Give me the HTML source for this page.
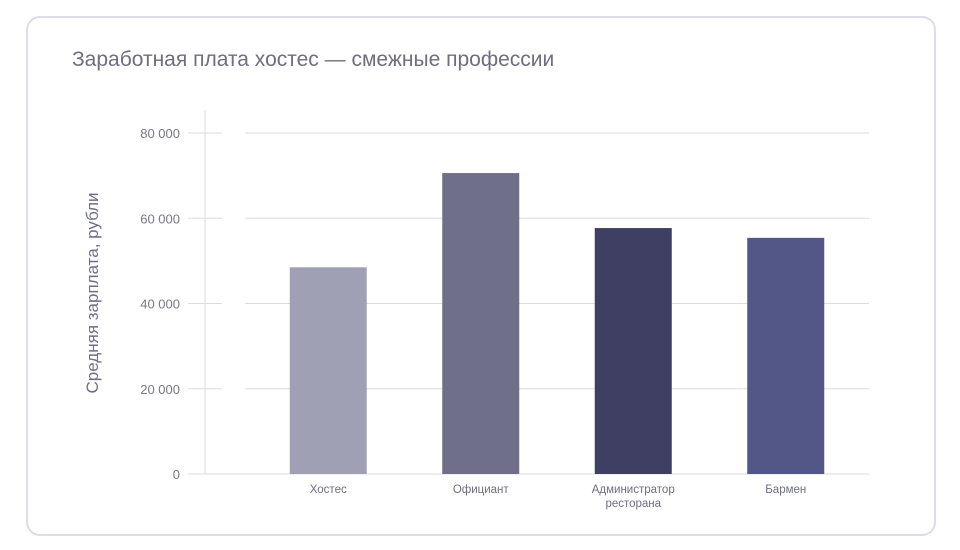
<!DOCTYPE html>
<html><head><meta charset="utf-8"><style>
body{margin:0;background:#fff;font-family:"Liberation Sans",sans-serif}
#card{position:absolute;left:26px;top:16px;width:906px;height:516px;border:2px solid #dddce9;border-radius:14px;box-sizing:content-box}
</style></head><body>
<div id="card"></div>
<svg id="chart" width="960" height="550" style="position:absolute;left:0;top:0">
<text x="72" y="66" font-size="21" fill="#6e6e80">Заработная плата хостес — смежные профессии</text>
<text transform="translate(98,293) rotate(-90)" text-anchor="middle" font-size="17" fill="#6e6e88">Средняя зарплата, рубли</text>
</svg>
<script>
const categories=[["Хостес"],["Официант"],["Администратор","ресторана"],["Бармен"]];
const values=[48500,70600,57700,55400];
const colors=["#a0a0b4","#6f6f8a","#3e3f63","#525788"];
const yTicks=[0,20000,40000,60000,80000];
const tickLabels=["0","20 000","40 000","60 000","80 000"];
const svg=document.getElementById('chart');const NS="http://www.w3.org/2000/svg";
const y0=474,yMax=80000,h=341;
const y=v=>y0-v/yMax*h;
const bandStart=252,bandW=152.5,barW=77;
const x=i=>bandStart+bandW*(i+0.5);
function mk(t,a,p){const e=document.createElementNS(NS,t);for(const k in a)e.setAttribute(k,a[k]);(p||svg).appendChild(e);return e;}
const al=mk('line',{x1:205,x2:205,y1:110,y2:474,stroke:"#dcdbe6","stroke-width":1});


yTicks.forEach((v,i)=>{
 const yy=y(v);
 const g1=mk('line',{x1:188,x2:222,y1:yy,y2:yy,stroke:"#dcdbe6","stroke-width":1});
 
 
 const g2=mk('line',{x1:i==0?188:245,x2:869,y1:yy,y2:yy,stroke:"#dcdbe6","stroke-width":1});
 
 
 const t=mk('text',{x:180,y:yy+5,"text-anchor":"end","font-size":13,fill:"#77778a"});
 t.textContent=tickLabels[i];
 
 
});
values.forEach((v,i)=>{
 const r=mk('rect',{x:x(i)-barW/2,y:y(v),width:barW,height:y0-y(v),fill:colors[i]});
 
 
 const t=mk('text',{x:x(i),y:493,"text-anchor":"middle","font-size":11.5,fill:"#6e6e80"});
 
 
 categories[i].forEach((s,j)=>{const ts=mk('tspan',{x:x(i),dy:j?14:0},t);ts.textContent=s;});
});
</script>
</body></html>
